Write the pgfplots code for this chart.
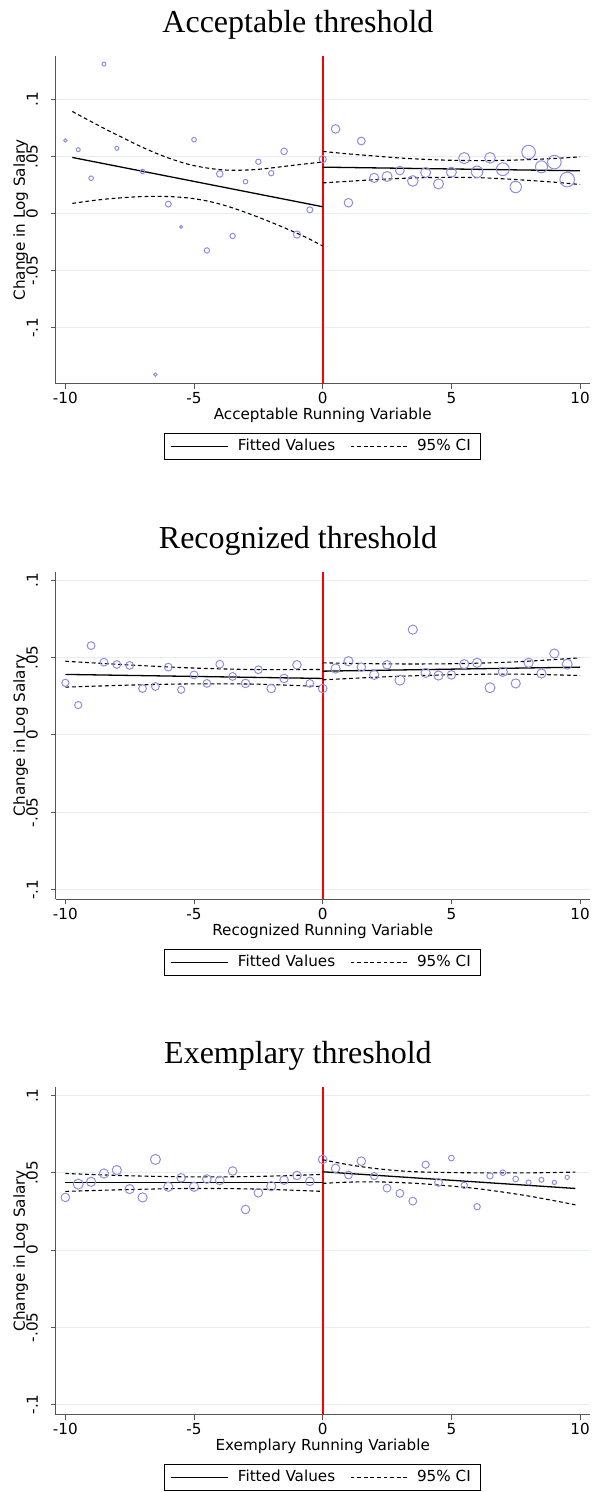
\documentclass[border=0pt]{standalone}
\usepackage{fontspec}
\setmainfont{DejaVu Sans}
\newfontfamily\titlefont{Liberation Serif}
\usepackage{pgfplots}
\usepackage{pgfplotstable}
\pgfplotsset{compat=1.18}

\definecolor{mk}{RGB}{145,140,228}
\definecolor{gridc}{RGB}{230,238,241}
\definecolor{axc}{RGB}{85,85,85}

% binned means: x, y, marker radius (pt)
\pgfplotstableread{
x y r
-10 0.0641 0.85
-9.5 0.0559 1.0
-9 0.0309 1.15
-8.5 0.1309 1.0
-8 0.0571 1.0
-7 0.0368 1.15
-6.5 -0.1412 0.85
-6 0.0082 1.5
-5.5 -0.0118 0.7
-5 0.0647 1.15
-4.5 -0.0324 1.35
-4 0.0347 1.65
-3.5 -0.0197 1.35
-3 0.0279 1.15
-2.5 0.0453 1.35
-2 0.0353 1.35
-1.5 0.0544 1.65
-1 -0.0185 1.8
-0.5 0.0032 1.5
0 0.0476 1.8
0.5 0.0741 2.15
1 0.0094 2.15
1.5 0.0635 1.95
2 0.0312 2.3
2.5 0.0324 2.5
3 0.0376 2.15
3.5 0.0285 2.65
4 0.0359 2.5
4.5 0.0259 2.5
5 0.0362 2.5
5.5 0.0485 2.8
6 0.0365 2.85
6.5 0.0488 2.65
7 0.0388 3.2
7.5 0.0232 2.85
8 0.0538 3.4
8.5 0.0409 3.0
9 0.0450 3.4
9.5 0.0297 3.65
}\dataA

\pgfplotstableread{
x y r
-10 0.0337 1.8
-9.5 0.0193 1.8
-9 0.0577 1.95
-8.5 0.0470 1.95
-8 0.0455 1.95
-7.5 0.0449 1.95
-7 0.0300 1.95
-6.5 0.0313 1.95
-6 0.0438 1.95
-5.5 0.0292 1.8
-5 0.0388 1.95
-4.5 0.0333 1.95
-4 0.0457 1.95
-3.5 0.0378 1.95
-3 0.0333 2.15
-2.5 0.0421 1.95
-2 0.0300 2.15
-1.5 0.0365 2.15
-1 0.0453 2.15
-0.5 0.0333 1.95
0 0.0300 2.15
0.5 0.0429 2.3
1 0.0476 2.3
1.5 0.0438 2.15
2 0.0388 2.3
2.5 0.0453 2.15
3 0.0354 2.5
3.5 0.0680 2.3
4 0.0401 2.3
4.5 0.0384 2.3
5 0.0388 2.15
5.5 0.0457 2.3
6 0.0466 2.3
6.5 0.0305 2.5
7 0.0408 2.3
7.5 0.0333 2.3
8 0.0466 2.3
8.5 0.0397 2.3
9 0.0526 2.3
9.5 0.0457 2.5
}\dataB

\pgfplotstableread{
x y r
-10 0.0341 2.15
-9.5 0.0427 2.5
-9 0.0442 2.3
-8.5 0.0496 2.3
-8 0.0518 2.3
-7.5 0.0395 2.3
-7 0.0341 2.3
-6.5 0.0587 2.5
-6 0.0410 2.3
-5.5 0.0468 2.15
-5 0.0410 2.3
-4.5 0.0460 2.15
-4 0.0451 2.15
-3.5 0.0512 2.15
-3 0.0263 2.15
-2.5 0.0371 2.15
-2 0.0414 2.3
-1.5 0.0453 2.15
-1 0.0483 2.15
-0.5 0.0445 2.15
0 0.0587 2.15
0.5 0.0529 2.15
1 0.0486 1.95
1.5 0.0576 2.15
2 0.0479 1.8
2.5 0.0401 1.95
3 0.0367 1.95
3.5 0.0317 1.95
4 0.0553 1.8
4.5 0.0438 1.95
5 0.0596 1.43
5.5 0.0419 1.6
6 0.0281 1.6
6.5 0.0481 1.6
7 0.0501 1.43
7.5 0.0460 1.43
8 0.0438 1.25
8.5 0.0455 1.25
9 0.0438 1.07
9.5 0.0471 1.07
}\dataC

\pgfplotsset{
  rdpanel/.style={
    scale only axis, width=267pt, height=163.75pt,
    anchor=north west,
    xmin=-10.375, xmax=10.375,
    axis lines*=left, axis line style={axc, line width=0.5pt, -},
    tick align=outside, major tick length=2.5pt,
    tick style={axc, line width=0.5pt},
    xtick={-10,-5,0,5,10}, xticklabels={-10,-5,0,5,10},
    ytick={-0.1,-0.05,0,0.05,0.1}, yticklabels={-.1,-.05,0,.05,.1},
    ymajorgrids, grid style={gridc, line width=0.5pt},
    tick label style={font=\fontsize{7.6}{9}\selectfont},
    label style={font=\fontsize{7.6}{9}\selectfont},
    xticklabel style={anchor=north, inner sep=0pt, yshift=-1.75pt},
    yticklabel style={xshift=-6.2pt, rotate=90, anchor=south, inner sep=0pt},
    ylabel={Change in Log Salary},
    ylabel style={at={(axis description cs:-0.0654,0.5)}, anchor=center},
    xlabel style={at={(axis description cs:0.5,-0.0968)}, anchor=center},
    title style={font=\titlefont\fontsize{16}{19}\selectfont,
      at={(axis description cs:0.4537,1)}, anchor=base, yshift=5.6pt},
    legend columns=2,
    legend style={at={(axis description cs:0.5,0)}, anchor=north, yshift=-24.85pt,
      draw=black, line width=0.5pt, font=\fontsize{7.6}{9}\selectfont,
      inner xsep=3pt, inner ysep=0.8pt,
      /tikz/every even column/.append style={column sep=5.4pt}},
    legend image code/.code={\draw[##1] (0pt,0pt) -- (28.5pt,0pt); \path (31pt,0pt);},
  },
  fit/.style={black, line width=0.65pt},
  ci/.style={black, line width=0.55pt, dash pattern=on 1.9pt off 1.4pt},
}

\begin{document}
\begin{tikzpicture}
\useasboundingbox (0,0) rectangle (295.5pt,-746pt);

% ---- Acceptable
\begin{axis}[rdpanel, at={(27.85pt,-28pt)}, ymin=-0.149, ymax=0.138,
  title={Acceptable threshold}, xlabel={Acceptable Running Variable}]
\addplot[red, line width=0.8pt, forget plot] coordinates {(0,-0.149) (0,0.138)};
\addplot[scatter, only marks, mark=o, forget plot,
  scatter/use mapped color={draw=mk, fill=none}, mark options={line width=0.5pt},
  visualization depends on={\thisrow{r} \as \rr},
  scatter/@pre marker code/.append style={/tikz/mark size=\rr}]
  table[x=x, y=y] {\dataA};
\addplot[ci, smooth, forget plot] coordinates {(-9.73,0.0894) (-9.08,0.0815) (-8.43,0.0738) (-7.78,0.0665) (-7.14,0.0594) (-6.49,0.0529) (-5.84,0.0474) (-5.19,0.0429) (-4.54,0.0400) (-3.89,0.0382) (-3.24,0.0379) (-2.6,0.0385) (-1.95,0.0400) (-1.3,0.0418) (-0.65,0.0435) (0,0.0451)};
\addplot[ci, smooth, forget plot] coordinates {(-9.73,0.0088) (-9.08,0.0109) (-8.43,0.0126) (-7.78,0.0138) (-7.14,0.0147) (-6.49,0.0150) (-5.84,0.0147) (-5.19,0.0135) (-4.54,0.0112) (-3.89,0.0076) (-3.24,0.0029) (-2.6,-0.0024) (-1.95,-0.0082) (-1.3,-0.0144) (-0.65,-0.0209) (0,-0.0285)};
\addplot[ci, smooth, forget plot] coordinates {(0,0.0544) (1,0.0522) (2,0.0504) (3,0.0486) (4,0.0474) (5,0.0466) (6,0.0463) (7,0.0465) (8,0.0472) (9,0.0482) (10,0.0496)};
\addplot[ci, smooth, forget plot] coordinates {(0,0.0268) (1,0.0282) (2,0.0296) (3,0.0307) (4,0.0314) (5,0.0317) (6,0.0314) (7,0.0304) (8,0.0290) (9,0.0274) (10,0.0254)};
\addplot[fit, forget plot] coordinates {(-9.73,0.0491) (0,0.0059)};
\addplot[fit, forget plot] coordinates {(0,0.0406) (10,0.0374)};
\addlegendimage{fit}\addlegendentry{Fitted Values}
\addlegendimage{ci}\addlegendentry{95\% CI}
\end{axis}

% ---- Recognized
\begin{axis}[rdpanel, at={(27.85pt,-285.85pt)}, ymin=-0.106, ymax=0.1054,
  title={Recognized threshold}, xlabel={Recognized Running Variable}]
\addplot[red, line width=0.8pt, forget plot] coordinates {(0,-0.106) (0,0.1054)};
\addplot[scatter, only marks, mark=o, forget plot,
  scatter/use mapped color={draw=mk, fill=none}, mark options={line width=0.5pt},
  visualization depends on={\thisrow{r} \as \rr},
  scatter/@pre marker code/.append style={/tikz/mark size=\rr}]
  table[x=x, y=y] {\dataB};
\addplot[ci, smooth, forget plot] coordinates {(-10,0.0476) (-7.5,0.0452) (-5,0.0432) (-2.5,0.0422) (0,0.0423)};
\addplot[ci, smooth, forget plot] coordinates {(-10,0.0309) (-7.5,0.0322) (-5,0.0330) (-2.5,0.0328) (0,0.0312)};
\addplot[ci, smooth, forget plot] coordinates {(0,0.0466) (2.5,0.0459) (5,0.0460) (7.5,0.0472) (10,0.0498)};
\addplot[ci, smooth, forget plot] coordinates {(0,0.0356) (2.5,0.0376) (5,0.0389) (7.5,0.0393) (10,0.0384)};
\addplot[fit, forget plot] coordinates {(-10,0.0391) (0,0.0365)};
\addplot[fit, forget plot] coordinates {(0,0.0412) (10,0.0438)};
\addlegendimage{fit}\addlegendentry{Fitted Values}
\addlegendimage{ci}\addlegendentry{95\% CI}
\end{axis}

% ---- Exemplary
\begin{axis}[rdpanel, at={(27.85pt,-543.5pt)}, ymin=-0.1065, ymax=0.1056,
  title={Exemplary threshold}, xlabel={Exemplary Running Variable}]
\addplot[red, line width=0.8pt, forget plot] coordinates {(0,-0.1065) (0,0.1056)};
\addplot[scatter, only marks, mark=o, forget plot,
  scatter/use mapped color={draw=mk, fill=none}, mark options={line width=0.5pt},
  visualization depends on={\thisrow{r} \as \rr},
  scatter/@pre marker code/.append style={/tikz/mark size=\rr}]
  table[x=x, y=y] {\dataC};
\addplot[ci, smooth, forget plot] coordinates {(-10,0.0496) (-7.5,0.0481) (-5,0.0474) (-2.5,0.0477) (0,0.0490)};
\addplot[ci, smooth, forget plot] coordinates {(-10,0.0380) (-7.5,0.0392) (-5,0.0399) (-2.5,0.0395) (0,0.0380)};
\addplot[ci, smooth, forget plot] coordinates {(0,0.0585) (1,0.0553) (2,0.0529) (3,0.0513) (4,0.0505) (6,0.0500) (8,0.0500) (9.82,0.0505)};
\addplot[ci, smooth, forget plot] coordinates {(0,0.0432) (1,0.0440) (2,0.0442) (3,0.0437) (4,0.0428) (6,0.0398) (8,0.0350) (9.82,0.0293)};
\addplot[fit, forget plot] coordinates {(-10,0.0436) (0,0.0436)};
\addplot[fit, forget plot] coordinates {(0,0.0507) (9.82,0.0399)};
\addlegendimage{fit}\addlegendentry{Fitted Values}
\addlegendimage{ci}\addlegendentry{95\% CI}
\end{axis}
\end{tikzpicture}
\end{document}
